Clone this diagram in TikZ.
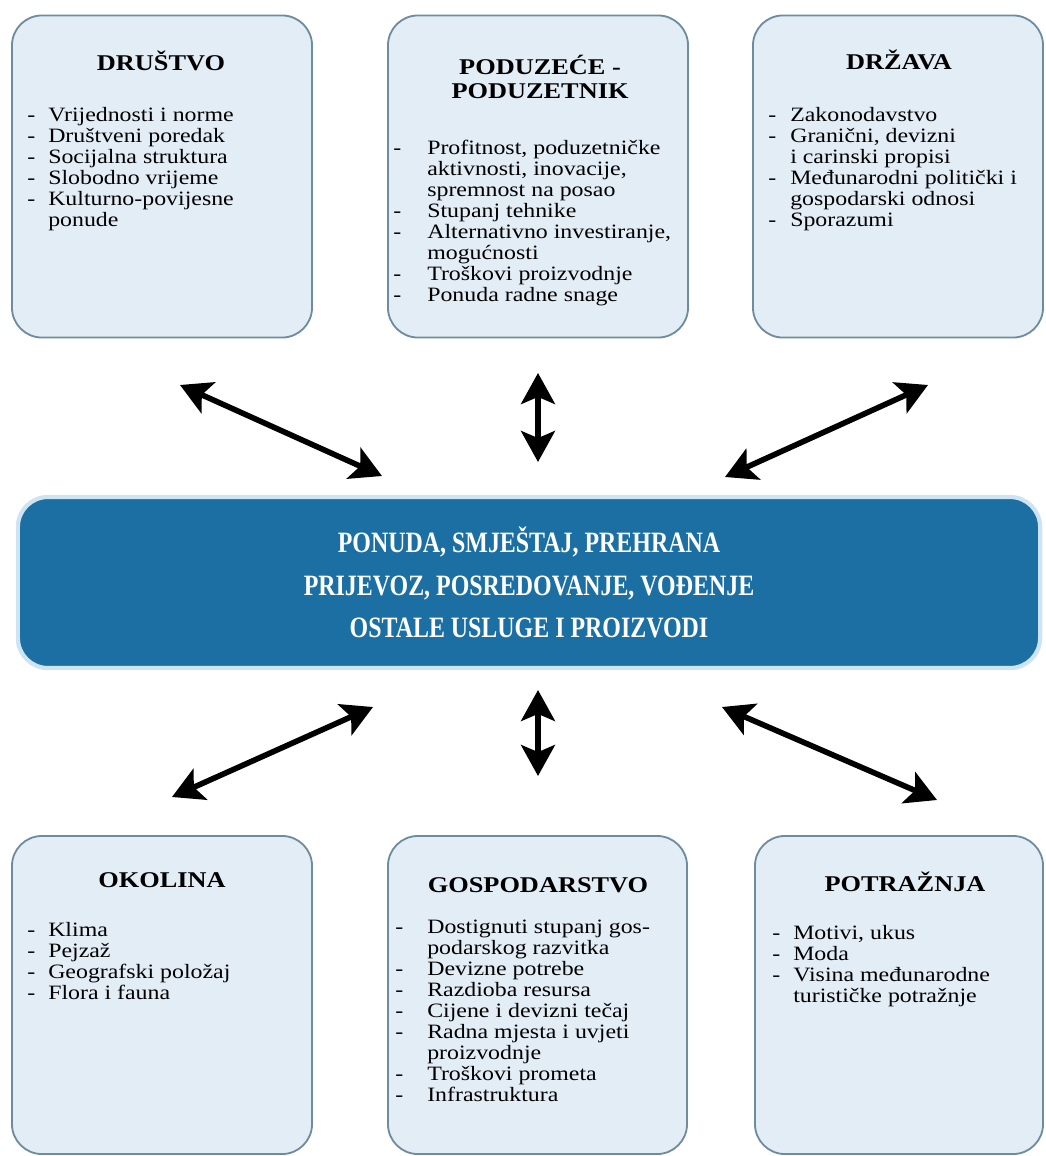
\documentclass[tikz,border=0pt]{standalone}
\usepackage{fontspec}
\setmainfont{Liberation Serif}
\newfontfamily\boxfont{Liberation Serif}[FakeStretch=1.17]
\newfontfamily\midfont{Liberation Serif}[FakeStretch=0.81]
\usepackage{tikz}
\usetikzlibrary{arrows.meta}
\definecolor{lightblue}{HTML}{E3EDF6}
\definecolor{boxedge}{HTML}{6F8C9E}
\definecolor{darkblue}{HTML}{1B6FA2}
\definecolor{halo}{HTML}{CFE4F2}

% dash column + text column
\newcommand{\popis}[2]{\begin{tabular}{@{}p{#1}@{}l@{}}#2\end{tabular}}

\begin{document}
\begin{tikzpicture}[
    x=0.025cm, y=-0.025cm,
    box/.style={draw=boxedge, line width=1.3pt, fill=lightblue, rounded corners=0.75cm, minimum width=7.5cm, minimum height=8.05cm, inner sep=0pt},
    head/.style={font=\boxfont\bfseries\fontsize{16}{17.7}\selectfont, align=center, inner sep=0pt},
    list/.style={font=\boxfont\fontsize{14.5}{15}\selectfont, anchor=north west, inner sep=0pt},
    mid/.style={draw=halo, line width=3pt, fill=darkblue, rounded corners=0.75cm, minimum width=25.55cm, minimum height=4.275cm, text=white, align=center, font=\midfont\bfseries\fontsize{21}{30.5}\selectfont},
    arr/.style={{Stealth[length=22pt,width=24pt,inset=5pt]}-{Stealth[length=22pt,width=24pt,inset=5pt]}, line width=4pt}
  ]
    \useasboundingbox (0,0) rectangle (1045,1156);

    % upper row
    \node[box] (drustvo) at (162,176.5) {};
    \node[box] (poduzece) at (538,176.5) {};
    \node[box, minimum width=7.25cm] (drzava) at (898,176.5) {};

    \node[head] (drustvo-n) at (161,61) {DRUŠTVO};
    \node[head] (poduzece-n) at (540,77) {PODUZEĆE -\\PODUZETNIK};
    \node[head] (drzava-n) at (899,60) {DRŽAVA};

    \node[list] (drustvo-l) at (27,106) {\popis{0.525cm}{
      - & Vrijednosti i norme\\
      - & Društveni poredak\\
      - & Socijalna struktura\\
      - & Slobodno vrijeme\\
      - & Kulturno-povijesne\\
        & ponude}};
    \node[list] (poduzece-l) at (393,139) {\popis{0.85cm}{
      - & Profitnost, poduzetničke\\
        & aktivnosti, inovacije,\\
        & spremnost na posao\\
      - & Stupanj tehnike\\
      - & Alternativno investiranje,\\
        & mogućnosti\\
      - & Troškovi proizvodnje\\
      - & Ponuda radne snage}};
    \node[list] (drzava-l) at (768,106) {\popis{0.55cm}{
      - & Zakonodavstvo\\
      - & Granični, devizni\\
        & i carinski propisi\\
      - & Međunarodni politički i\\
        & gospodarski odnosi\\
      - & Sporazumi}};

    % middle
    \node[mid] (ponuda) at (529,582.5) {PONUDA, SMJEŠTAJ, PREHRANA\\PRIJEVOZ, POSREDOVANJE, VOĐENJE\\OSTALE USLUGE I PROIZVODI};

    % lower row
    \node[box, minimum height=7.95cm] (okolina) at (162,995) {};
    \node[box, minimum height=7.95cm, minimum width=7.475cm] (gospodarstvo) at (537.5,995) {};
    \node[box, minimum height=7.95cm, minimum width=7.2cm] (potraznja) at (899,995) {};

    \node[head] (okolina-n) at (162,880) {OKOLINA};
    \node[head] (gospodarstvo-n) at (538,885) {GOSPODARSTVO};
    \node[head] (potraznja-n) at (905,882) {POTRAŽNJA};

    \node[list] (okolina-l) at (27,921) {\popis{0.525cm}{
      - & Klima\\
      - & Pejzaž\\
      - & Geografski položaj\\
      - & Flora i fauna}};
    \node[list] (gospodarstvo-l) at (395,918) {\popis{0.8cm}{
      - & Dostignuti stupanj gos-\\
        & podarskog razvitka\\
      - & Devizne potrebe\\
      - & Razdioba resursa\\
      - & Cijene i devizni tečaj\\
      - & Radna mjesta i uvjeti\\
        & proizvodnje\\
      - & Troškovi prometa\\
      - & Infrastruktura}};
    \node[list] (potraznja-l) at (772,924) {\popis{0.525cm}{
      - & Motivi, ukus\\
      - & Moda\\
      - & Visina međunarodne\\
        & turističke potražnje}};

    % arrow ends
    \coordinate (drustvo-k) at (180,385);
    \coordinate (ponuda-k1) at (382,476);
    \coordinate (poduzece-k) at (538,373);
    \coordinate (ponuda-k2) at (538,462);
    \coordinate (drzava-k) at (928,385);
    \coordinate (ponuda-k3) at (725,477);
    \coordinate (okolina-k) at (172,797);
    \coordinate (ponuda-k4) at (373,707);
    \coordinate (gospodarstvo-k) at (538,776);
    \coordinate (ponuda-k5) at (538,690);
    \coordinate (potraznja-k) at (937,800);
    \coordinate (ponuda-k6) at (722,707);

    \draw[arr] (drustvo-k) -- (ponuda-k1);
    \draw[arr] (poduzece-k) -- (ponuda-k2);
    \draw[arr] (drzava-k) -- (ponuda-k3);
    \draw[arr] (okolina-k) -- (ponuda-k4);
    \draw[arr] (gospodarstvo-k) -- (ponuda-k5);
    \draw[arr] (potraznja-k) -- (ponuda-k6);
  \end{tikzpicture}
\end{document}
